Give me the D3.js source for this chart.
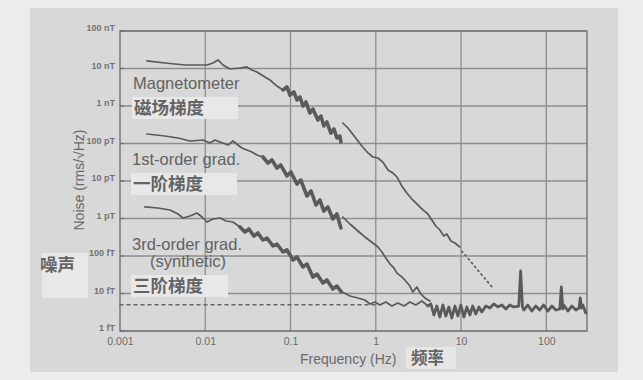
<!DOCTYPE html>
<html><head><meta charset="utf-8">
<script src="https://cdn.jsdelivr.net/npm/d3@7"></script>
<style>
html,body{margin:0;padding:0;background:#ececec;}
svg{display:block;}
</style></head>
<body>
<svg id="chart" width="643" height="380"></svg>
<script>
// ---- axis ticks ----
const freqTicks = [0.001, 0.01, 0.1, 1, 10, 100];
const freqTickLabels = ["0.001", "0.01", "0.1", "1", "10", "100"];
const noiseTicks = [1e8, 1e7, 1e6, 1e5, 1e4, 1e3, 100, 10, 1]; // in fT
const noiseTickLabels = ["100 nT", "10 nT", "1 nT", "100 pT", "10 pT", "1 pT", "100 fT", "10 fT", "1 fT"];

// ---- Magnetometer (frequency Hz, noise fT/√Hz) ----
const magLowFreq  = [0.00207, 0.00337, 0.00578, 0.0105, 0.0123, 0.0141, 0.0161, 0.0195, 0.0255, 0.0308, 0.0352, 0.0403, 0.050, 0.0574, 0.0693, 0.0815];
const magLowNoise = [1.59e7, 1.40e7, 1.24e7, 1.24e7, 1.40e7, 1.69e7, 1.24e7, 9.7e6, 1.03e7, 1.10e7, 9.1e6, 8.07e6, 5.93e6, 4.94e6, 3.41e6, 2.67e6];
const magMidFreq  = [0.0815, 0.0907, 0.0984, 0.1096, 0.119, 0.129, 0.140, 0.1515, 0.169, 0.183, 0.2095, 0.227, 0.246, 0.267, 0.297, 0.323, 0.350, 0.379, 0.39];
const magMidNoise = [2.67e6, 3.21e6, 1.96e6, 2.36e6, 1.45e6, 1.74e6, 1.0e6, 1.28e6, 6.5e5, 8.3e5, 4.23e5, 5.4e5, 2.93e5, 3.74e5, 1.9e5, 2.44e5, 1.40e5, 1.58e5, 1.1e5];
const magHighFreq  = [0.41, 0.471, 0.569, 0.687, 0.809, 0.924, 1.06, 1.21, 1.39, 1.59, 1.77, 2.02, 2.31, 2.65, 3.03, 3.57, 4.08, 4.54, 5.06, 5.64, 6.28, 6.81, 7.60, 8.47, 9.69];
const magHighNoise = [3.52e5, 2.59e5, 1.49e5, 8.6e4, 5.6e4, 4.37e4, 4.1e4, 3.2e4, 1.96e4, 1.63e4, 1.28e4, 7.4e3, 4.8e3, 3.3e3, 2.44e3, 1.69e3, 1.32e3, 912, 631, 494, 341, 386, 251, 222, 174];
const magExtrapFreq  = [10.2, 23.6];
const magExtrapNoise = [136, 14.0];

// ---- 1st-order gradiometer ----
const grad1LowFreq  = [0.00207, 0.00337, 0.00479, 0.00662, 0.00941, 0.01135, 0.0130, 0.0149, 0.0185, 0.0211, 0.0242, 0.0269, 0.0308, 0.0352, 0.0403, 0.0474];
const grad1LowNoise = [1.79e5, 1.585e5, 1.40e5, 1.166e5, 1.24e5, 1.03e5, 1.24e5, 1.10e5, 9.1e4, 1.166e5, 9.1e4, 7.6e4, 6.7e4, 5.93e4, 4.94e4, 4.37e4];
const grad1MidFreq  = [0.0474, 0.0543, 0.0605, 0.0693, 0.0769, 0.0907, 0.101, 0.119, 0.132, 0.156, 0.174, 0.199, 0.221, 0.246, 0.274, 0.314, 0.350, 0.39];
const grad1MidNoise = [4.37e4, 3.02e4, 3.63e4, 2.22e4, 2.67e4, 1.36e4, 1.74e4, 8.3e3, 1.06e4, 3.98e3, 5.41e3, 2.29e3, 3.11e3, 1.58e3, 2.03e3, 970, 1.32e3, 558];
const grad1HighFreq  = [0.41, 0.497, 0.617, 0.745, 0.924, 1.06, 1.18, 1.31, 1.47, 1.63, 1.77, 1.97, 2.19, 2.51, 2.72, 3.03, 3.38, 3.76, 4.31];
const grad1HighNoise = [1.097e3, 714, 464, 322, 222, 174, 128, 88, 61, 48, 35, 29, 23, 15.8, 11.0, 14.9, 9.7, 7.6, 6.3];

// ---- 3rd-order gradiometer (synthetic) ----
const grad3LowFreq  = [0.00196, 0.00279, 0.00385, 0.00479, 0.00548, 0.00662, 0.00799, 0.00916, 0.0105, 0.0123, 0.0149, 0.0175, 0.0211, 0.0255];
const grad3LowNoise = [2.03e3, 1.905e3, 1.686e3, 1.318e3, 1.03e3, 1.166e3, 1.40e3, 1.097e3, 806, 970, 1.03e3, 858, 806, 593];
const grad3MidFreq  = [0.0255, 0.0292, 0.0325, 0.0372, 0.0414, 0.0474, 0.0529, 0.0622, 0.0693, 0.0815, 0.0907, 0.107, 0.119, 0.140, 0.156, 0.183, 0.204, 0.240, 0.267, 0.314, 0.350, 0.39];
const grad3MidNoise = [593, 437, 525, 341, 410, 267, 302, 185, 209, 128, 145, 78, 94, 51, 61, 27.5, 33, 19.1, 22.9, 13.2, 15.8, 11.4];
const grad3HighFreq  = [0.39, 0.497, 0.617, 0.745, 0.853, 0.978, 1.117, 1.31, 1.54, 1.82, 2.14, 2.51, 2.95, 3.47, 4.08];
const grad3HighNoise = [11.4, 8.6, 7.6, 6.7, 5.25, 5.93, 4.94, 5.93, 4.64, 5.59, 4.64, 5.93, 4.94, 6.3, 4.64];
// common noise floor with line-frequency peaks (50, 150, 250 Hz)
const floorFreq  = [4.08, 4.43, 4.80, 5.20, 5.64, 6.12, 6.63, 7.19, 7.80, 8.47, 9.18, 9.95, 10.8, 11.7, 12.7, 13.7, 14.9, 16.2, 17.5, 19.5, 21.8, 24.2, 27.0, 30.1, 33.5, 37.3, 41.6, 47.5, 50, 52.5, 54.5, 60.7, 67.5, 75.2, 83.7, 93.2, 104, 116, 129, 144, 150, 156, 160, 179, 199, 222, 242, 250, 258, 268, 290];
const floorNoise = [4.64, 5.25, 2.67, 4.64, 2.36, 4.94, 2.51, 4.37, 2.22, 4.64, 2.51, 4.94, 2.36, 4.37, 2.67, 4.64, 2.84, 4.37, 3.21, 4.64, 4.10, 5.25, 4.37, 4.94, 3.86, 4.94, 4.37, 4.64, 39.8, 4.37, 3.63, 4.94, 3.41, 4.64, 3.63, 4.94, 3.41, 4.64, 3.63, 3.86, 14.9, 3.86, 4.94, 3.41, 4.64, 3.63, 4.10, 7.6, 4.10, 4.94, 3.02];

// dashed reference level
const refLevelFreq  = [0.001, 1];
const refLevelNoise = [5, 5];

// ---- labels ----
const curveLabels = [
  {lines: ["Magnetometer"], cn: "磁场梯度", x: 133, y: 89},
  {lines: ["1st-order grad."], cn: "一阶梯度", x: 132, y: 165},
  {lines: ["3rd-order grad.", "(synthetic)"], cn: "三阶梯度", x: 132, y: 250}
];

// ================== drawing ==================
const svg = d3.select("#chart");
const W = 643, H = 380;
const m = {left: 120, right: 587, top: 31, bottom: 331};

svg.append("rect").attr("x", 0).attr("y", 0).attr("width", W).attr("height", H).attr("fill", "#ececec");
svg.append("rect").attr("x", 30).attr("y", 8).attr("width", 588).attr("height", 364).attr("fill", "#d8d8d8");

const x = d3.scaleLog().domain([0.001, 300]).range([m.left, m.right]);
const y = d3.scaleLog().domain([1, 1e8]).range([m.bottom, m.top]);

const ink = "#5a5a5a";
const gridCol = "#8e8e8e";

// grid
const g = svg.append("g");
g.selectAll(".hg").data(noiseTicks).join("line")
  .attr("x1", m.left).attr("x2", m.right)
  .attr("y1", d => y(d)).attr("y2", d => y(d))
  .attr("stroke", gridCol).attr("stroke-width", 1.3);
g.selectAll(".vg").data(freqTicks.slice(1)).join("line")
  .attr("x1", d => x(d)).attr("x2", d => x(d))
  .attr("y1", m.top).attr("y2", m.bottom)
  .attr("stroke", gridCol).attr("stroke-width", 1.3);
g.append("rect").attr("x", m.left).attr("y", m.top)
  .attr("width", m.right - m.left).attr("height", m.bottom - m.top)
  .attr("fill", "none").attr("stroke", "#7a7a7a").attr("stroke-width", 1.5);

// small tick marks along the left axis
g.selectAll(".lt").data(noiseTicks).join("line")
  .attr("x1", m.left).attr("x2", m.left + 4)
  .attr("y1", d => y(d)).attr("y2", d => y(d))
  .attr("stroke", "#6a6a6a").attr("stroke-width", 1.2);

// axes (labels only)
const xAxis = d3.axisBottom(x).tickValues(freqTicks)
  .tickFormat((d, i) => freqTickLabels[i]).tickSize(0).tickPadding(7);
const xa = svg.append("g").attr("transform", `translate(0,${m.bottom})`).call(xAxis);
xa.select(".domain").remove();
xa.selectAll("text").attr("font-family", "Liberation Sans, Arial, sans-serif")
  .attr("font-size", 10.5).attr("fill", "#6a6a6a");

const yAxis = d3.axisLeft(y).tickValues(noiseTicks)
  .tickFormat((d, i) => noiseTickLabels[i]).tickSize(0).tickPadding(4);
const ya = svg.append("g").attr("transform", `translate(${m.left - 1},-3)`).call(yAxis);
ya.select(".domain").remove();
ya.selectAll("text").attr("font-family", "Liberation Sans Narrow, Liberation Sans, Arial, sans-serif")
  .attr("font-size", 9).attr("font-weight", "bold").attr("fill", "#727272");

// label boxes & text (behind curves)
const lab = svg.append("g");
const sansFont = "Liberation Sans, Arial, sans-serif";
const cjkFont = "Noto Sans CJK SC, sans-serif";
curveLabels.forEach(l => {
  l.lines.forEach((t, i) => {
    lab.append("text").attr("x", l.x + (i ? 18 : 0)).attr("y", l.y + i * 17)
      .attr("font-family", sansFont).attr("font-size", 16.5)
      .attr("fill", "#626262").text(t);
  });
  const by = l.y + (l.lines.length - 1) * 17 + 6;
  lab.append("rect").attr("x", l.x - 1).attr("y", by + 2)
    .attr("width", l.lines.length > 1 ? 97 : 106).attr("height", 22)
    .attr("fill", "#e8e8e8");
  lab.append("text").attr("x", l.x + 1).attr("y", by + 19)
    .attr("font-family", cjkFont).attr("font-weight", "bold").attr("font-size", 17.5)
    .attr("fill", "#646464").text(l.cn);
});

// y axis title
svg.append("text").attr("transform", "translate(84,180) rotate(-90)")
  .attr("text-anchor", "middle").attr("font-family", sansFont)
  .attr("font-size", 14).attr("fill", "#6a6a6a").text("Noise (rms/√Hz)");

// 噪声 box
svg.append("rect").attr("x", 42).attr("y", 253).attr("width", 46).attr("height", 45).attr("fill", "#e8e8e8");
svg.append("text").attr("x", 40).attr("y", 271)
  .attr("font-family", cjkFont).attr("font-weight", "bold").attr("font-size", 17.5)
  .attr("fill", "#646464").text("噪声");

// x axis title
svg.append("rect").attr("x", 406).attr("y", 347).attr("width", 50).attr("height", 22).attr("fill", "#e6e6e6");
svg.append("text").attr("x", 300).attr("y", 364)
  .attr("font-family", sansFont).attr("font-size", 14)
  .attr("fill", "#6a6a6a").text("Frequency (Hz)");
svg.append("text").attr("x", 411).attr("y", 364)
  .attr("font-family", cjkFont).attr("font-weight", "bold").attr("font-size", 16.5)
  .attr("fill", "#646464").text("频率");

// curves
const line = d3.line().x(d => x(d[0])).y(d => y(d[1]));
const zip = (a, b) => a.map((v, i) => [v, b[i]]);
const curves = svg.append("g").attr("fill", "none").attr("stroke", ink)
  .attr("stroke-linejoin", "round").attr("stroke-linecap", "round");

function draw(fx, ny, w, dash) {
  const p = curves.append("path").attr("d", line(zip(fx, ny))).attr("stroke-width", w);
  if (dash) p.attr("stroke-dasharray", dash);
  return p;
}
// dashed reference
draw(refLevelFreq, refLevelNoise, 1.5, "3,4").attr("stroke", "#666");

draw(magLowFreq, magLowNoise, 1.7);
draw(magMidFreq, magMidNoise, 3.6);
draw(magHighFreq, magHighNoise, 1.7);
draw(magExtrapFreq, magExtrapNoise, 1.6, "1.5,3.5");

draw(grad1LowFreq, grad1LowNoise, 1.7);
draw(grad1MidFreq, grad1MidNoise, 3.6);
draw(grad1HighFreq, grad1HighNoise, 1.7);

draw(grad3LowFreq, grad3LowNoise, 1.7);
draw(grad3MidFreq, grad3MidNoise, 3.6);
draw(grad3HighFreq, grad3HighNoise, 1.7);
draw(floorFreq, floorNoise, 2.8);
</script>
</body></html>
